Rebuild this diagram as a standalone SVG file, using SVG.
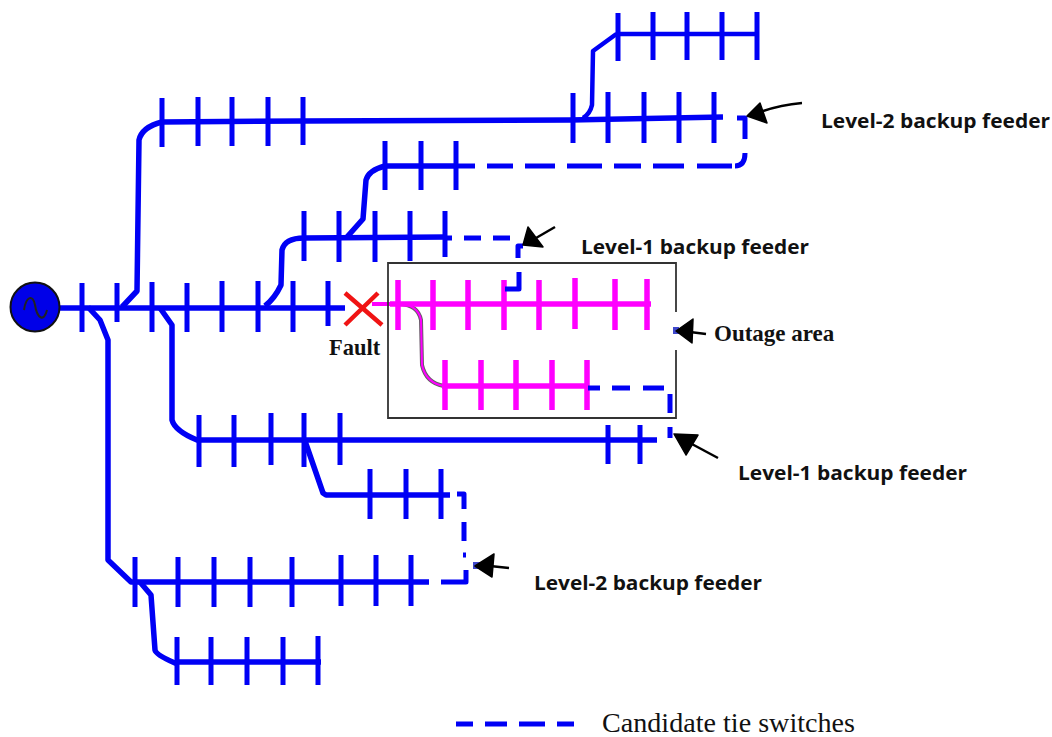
<svg xmlns="http://www.w3.org/2000/svg" width="1052" height="737" viewBox="0 0 1052 737">
<style>
.bus{fill:none;stroke:#0000f5;stroke-width:5.5;stroke-linejoin:round}
.thin{stroke-width:4.5}
.tick{fill:none;stroke:#0000f5;stroke-width:5}
.tie{fill:none;stroke:#0000f5;stroke-width:5;stroke-linejoin:round}
.pink{fill:none;stroke:#ff00ff;stroke-width:5.5}
.arr{fill:#000;stroke:#000;stroke-width:1.5;stroke-linejoin:round}
.tail{fill:none;stroke:#000;stroke-width:2.5}
.lab{font-family:"Open Sans","Noto Sans",sans-serif;font-weight:700;font-size:19px;fill:#111}
.ser{font-family:"Liberation Serif",serif;font-weight:700;fill:#111}
</style>
<rect width="1052" height="737" fill="#fff"/>
<g id="connectors">
<path class="bus" d="M60 308H345"/>
<path class="bus" d="M122 307L137 291L139 140Q142 127 162 122L303 121L570 120L723 117"/>
<path class="bus thin" d="M583 118Q590 114 592 105L593 51L615 35L618 34H757"/>
<path class="bus" d="M265 306Q275 298 281 285L282 250Q285 238 304 238L446 237"/>
<path class="bus" d="M347 237L363 219L366 180Q369 170 385 166H457"/>
<path class="bus" d="M160 308L172 325V420Q175 431 197 440L657 440"/>
<path class="bus" d="M305 441L323 493L326 495H450"/>
<path class="bus" d="M88 307L100 320L108 340V560L131 582H429"/>
<path class="bus" d="M140 582L151 595L155 650Q156 655 175 663L178 662H321"/>
<path class="tick" d="M82 283V332M117 283V322M152 282V332M187 283V332M222 281V332M258 281V332M293 281V332M328 281V326"/>
<path class="tick" d="M162 98V147M198 97V146M232 97V146M268 97V146M303 97V145M573 93V143M608 92V143M644 92V143M679 92V143M714 92V143"/>
<path class="tick" d="M618 13V61M653 12V60M687 12V60M722 12V60M757 12V60"/>
<path class="tick" d="M385 141V190M421 141V190M456 141V190"/>
<path class="tick" d="M304 211V261M339 211V262M375 211V262M410 211V261M445 211V257"/>
<path class="tick" d="M199 415V467M234 415V467M271 413V465M304 413V467M340 413V465M608 425V464M640 425V464"/>
<path class="tick" d="M370 469V519M406 469V519M441 469V519"/>
<path class="tick" d="M135 557V607M178 557V607M214 557V607M250 557V607M292 557V607M341 555V606M376 555V606M411 555V606"/>
<path class="tick" d="M177 637V685M211 637V685M247 637V685M283 637V685M318 636V685"/>
<path d="M372 304H398" fill="none" stroke="#ff00ff" stroke-width="4"/>
<path d="M400 304Q418 305 421 320L422 365Q426 383 444 386" fill="none" stroke="#6a5a6a" stroke-width="4"/>
<path class="pink" d="M390 304H651"/>
<path d="M400 304Q418 305 421 320L422 365Q426 383 444 386" fill="none" stroke="#ff00ff" stroke-width="2"/>
<path class="pink" d="M442 386H587"/>
<path class="pink" d="M398 280V330M433 280V330M468 280V330M504 280V330M539 280V330M575 278V329M615 279V330M647 279V330"/>
<path class="pink" d="M445 360V410M481 360V410M516 360V410M552 360V410M587 360V410"/>
<path class="tie" d="M458 166H475M487 166H513M525 166H555M567 166H602M614 166H641M653 166H684M697 166H732M735 166Q745 166 745 153M745 139V118H737"/>
<path class="tie" d="M447 238H452M464 238H481M493 238H510M518 258V246H523M519 272V289H505"/>
<path class="tie" d="M588 388H600M612 388H630M643 388H664M670 394V413M670 427V438"/>
<path class="tie" d="M457 494H464V509M464 522V541M463 555H466M466 570V582H441"/>
</g>
<g id="source">
<circle cx="35" cy="307" r="24.5" fill="#0000e8" stroke="#111" stroke-width="2"/>
<path d="M24 310C26 296 33 294 35 305C37 318 44 323 47 310" fill="none" stroke="#222" stroke-width="2"/>
</g>
<g id="fault">
<path d="M345 293L382 325M378 293L345 325" fill="none" stroke="#f01414" stroke-width="4.5"/>
<text class="ser" x="329" y="355" font-size="22.500">Fault</text>
</g>
<g id="outage-area">
<path d="M676 312V263H388V418H676V350" fill="none" stroke="#333" stroke-width="1.8"/>
<rect x="673" y="327" width="6" height="7" fill="#3f48cc"/>
<path class="arr" d="M676 331L693 319L692 343Z"/>
<path class="tail" d="M690 332L706 334"/>
<text class="ser" x="714" y="341" font-size="23">Outage area</text>
</g>
<g id="label-level2-top">
<path class="arr" d="M747 116L760 103L767 123Z"/>
<path class="tail" d="M760 112Q780 105 802 103"/>
<text class="lab" x="821" y="128" textLength="229" lengthAdjust="spacingAndGlyphs">Level-2 backup feeder</text>
</g>
<g id="label-level1-top">
<path class="arr" d="M523 245L528 227L543 247Z"/>
<path class="tail" d="M536 238L555 227"/>
<text class="lab" x="581" y="254" textLength="228" lengthAdjust="spacingAndGlyphs">Level-1 backup feeder</text>
</g>
<g id="label-level1-bottom">
<path class="arr" d="M674 434L698 435L686 455Z"/>
<path class="tail" d="M690 443L718 458"/>
<text class="lab" x="738" y="480" textLength="229" lengthAdjust="spacingAndGlyphs">Level-1 backup feeder</text>
</g>
<g id="label-level2-bottom">
<rect x="473" y="562" width="7" height="7" fill="#3f48cc"/>
<path class="arr" d="M475 566L494 554L492 577Z"/>
<path class="tail" d="M490 566L509 568"/>
<text class="lab" x="534" y="590" textLength="228" lengthAdjust="spacingAndGlyphs">Level-2 backup feeder</text>
</g>
<g id="legend">
<path class="tie" d="M456 724H473M485 724H507M519 724H545M557 724H574"/>
<text x="602" y="732" font-family="'Liberation Serif',serif" font-size="28" fill="#111" textLength="253" lengthAdjust="spacingAndGlyphs">Candidate tie switches</text>
</g>
</svg>
